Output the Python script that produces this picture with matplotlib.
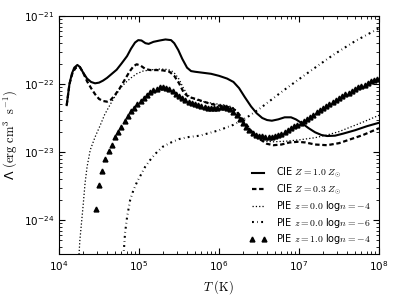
import numpy as np
import matplotlib
matplotlib.use("Agg")
import matplotlib.pyplot as plt

plt.rcParams['mathtext.fontset'] = 'cm'

# CIE, solar metallicity (log T, log Lambda)
cie1_logT = [4.096, 4.13, 4.16, 4.19, 4.229, 4.26, 4.30, 4.35, 4.40, 4.45,
             4.50, 4.55, 4.60, 4.65, 4.72, 4.78, 4.85, 4.90, 4.95, 4.99,
             5.03, 5.08, 5.12, 5.18, 5.26, 5.33, 5.40, 5.44, 5.49, 5.54,
             5.60, 5.65, 5.70, 5.80, 5.90, 6.00, 6.10, 6.18, 6.25, 6.32,
             6.40, 6.47, 6.54, 6.60, 6.66, 6.74, 6.82, 6.90, 6.96, 7.04,
             7.12, 7.20, 7.28, 7.35, 7.45, 7.55, 7.70, 7.85, 8.0]
cie1_logL = [-22.31, -22.00, -21.85, -21.76, -21.72, -21.75, -21.83, -21.92, -21.97, -21.99,
             -21.98, -21.95, -21.91, -21.86, -21.79, -21.70, -21.59, -21.48, -21.39, -21.355,
             -21.36, -21.40, -21.41, -21.38, -21.36, -21.345, -21.355, -21.40, -21.50, -21.63,
             -21.76, -21.81, -21.82, -21.835, -21.85, -21.88, -21.92, -21.97, -22.06, -22.19,
             -22.33, -22.43, -22.50, -22.53, -22.54, -22.52, -22.49, -22.49, -22.52, -22.58,
             -22.65, -22.71, -22.75, -22.765, -22.76, -22.73, -22.68, -22.62, -22.57]

# CIE, 0.3 solar
cie03_logT = [4.096, 4.13, 4.17, 4.21, 4.26, 4.30, 4.35, 4.40, 4.45, 4.50,
              4.55, 4.60, 4.65, 4.70, 4.76, 4.82, 4.88, 4.93, 4.97, 5.02,
              5.08, 5.14, 5.22, 5.30, 5.38, 5.44, 5.50, 5.56, 5.62, 5.68,
              5.76, 5.86, 5.96, 6.06, 6.16, 6.22, 6.30, 6.38, 6.45, 6.52,
              6.60, 6.68, 6.78, 6.88, 6.98, 7.08, 7.20, 7.35, 7.50, 7.65,
              7.80, 8.0]
cie03_logL = [-22.31, -22.00, -21.83, -21.76, -21.75, -21.83, -21.96, -22.06, -22.15, -22.22,
              -22.25, -22.26, -22.23, -22.16, -22.06, -21.94, -21.82, -21.74, -21.71, -21.73,
              -21.78, -21.795, -21.795, -21.80, -21.82, -21.88, -21.99, -22.13, -22.19, -22.21,
              -22.24, -22.28, -22.31, -22.33, -22.35, -22.40, -22.52, -22.66, -22.75, -22.82,
              -22.88, -22.90, -22.89, -22.86, -22.85, -22.86, -22.89, -22.90, -22.87, -22.81,
              -22.75, -22.65]

# PIE z=0, log n=-4
pie4_logT = [4.24, 4.26, 4.28, 4.30, 4.325, 4.35, 4.39, 4.45, 4.51, 4.57,
             4.64, 4.70, 4.76, 4.83, 4.90, 4.97, 5.05, 5.16, 5.26, 5.34,
             5.40, 5.45, 5.50, 5.55, 5.60, 5.66, 5.76, 5.90, 6.01, 6.12,
             6.18, 6.25, 6.32, 6.40, 6.48, 6.56, 6.68, 6.85, 7.01, 7.20,
             7.35, 7.50, 7.65, 7.80, 8.0]
pie4_logL = [-24.70, -24.30, -24.05, -23.80, -23.46, -23.22, -22.97, -22.78, -22.62, -22.45,
             -22.30, -22.18, -22.07, -21.98, -21.91, -21.85, -21.81, -21.79, -21.78, -21.785,
             -21.80, -21.85, -21.93, -22.05, -22.15, -22.21, -22.25, -22.28, -22.30, -22.32,
             -22.35, -22.45, -22.58, -22.72, -22.80, -22.84, -22.85, -22.84, -22.82, -22.79,
             -22.75, -22.70, -22.63, -22.56, -22.46]

# PIE z=0, log n=-6
pie6_logT = [4.80, 4.81, 4.825, 4.85, 4.888, 4.93, 4.975, 5.03, 5.075, 5.15,
             5.225, 5.30, 5.40, 5.50, 5.62, 5.76, 5.88, 6.0, 6.18, 6.35,
             6.5, 6.6, 6.8, 7.01, 7.2, 7.43, 7.7, 8.0]
pie6_logL = [-24.80, -24.45, -24.19, -23.96, -23.71, -23.56, -23.44, -23.32, -23.22, -23.10,
             -23.00, -22.92, -22.86, -22.81, -22.78, -22.76, -22.72, -22.68, -22.60, -22.49,
             -22.37, -22.28, -22.10, -21.92, -21.76, -21.57, -21.37, -21.18]

# PIE z=1, log n=-4 (triangles)
pie1_logT = [4.46, 4.50, 4.54, 4.58, 4.62, 4.66, 4.70, 4.74, 4.78, 4.82,
             4.86, 4.90, 4.94, 4.98, 5.02, 5.06, 5.10, 5.14, 5.18, 5.22,
             5.26, 5.30, 5.34, 5.38, 5.42, 5.46, 5.50, 5.54, 5.58, 5.62,
             5.66, 5.70, 5.74, 5.78, 5.82, 5.86, 5.90, 5.94, 5.98, 6.02,
             6.06, 6.10, 6.14, 6.18, 6.22, 6.26, 6.30, 6.34, 6.38, 6.42,
             6.46, 6.50, 6.54, 6.58, 6.62, 6.66, 6.70, 6.74, 6.78, 6.82,
             6.86, 6.90, 6.94, 6.98, 7.02, 7.06, 7.10, 7.14, 7.18, 7.22,
             7.26, 7.30, 7.34, 7.38, 7.42, 7.46, 7.50, 7.54, 7.58, 7.62,
             7.66, 7.70, 7.74, 7.78, 7.82, 7.86, 7.90, 7.94, 7.98]
pie1_logL = [-23.84, -23.49, -23.28, -23.10, -22.99, -22.90, -22.78, -22.70, -22.63, -22.55,
             -22.47, -22.40, -22.35, -22.30, -22.25, -22.20, -22.16, -22.12, -22.09, -22.07,
             -22.05, -22.05, -22.06, -22.08, -22.11, -22.14, -22.18, -22.21, -22.24, -22.26,
             -22.28, -22.29, -22.31, -22.32, -22.34, -22.35, -22.36, -22.36, -22.35, -22.34,
             -22.34, -22.35, -22.37, -22.41, -22.46, -22.52, -22.57, -22.63, -22.68, -22.72,
             -22.745, -22.76, -22.77, -22.775, -22.78, -22.78, -22.77, -22.75, -22.73, -22.70,
             -22.68, -22.65, -22.62, -22.60, -22.57, -22.54, -22.51, -22.48, -22.45, -22.41,
             -22.38, -22.35, -22.32, -22.29, -22.26, -22.23, -22.20, -22.18, -22.15, -22.13,
             -22.10, -22.08, -22.05, -22.03, -22.01, -21.98, -21.96, -21.94, -21.92]


def p10(a):
    return 10 ** np.array(a)


fig = plt.figure(figsize=(3.99, 2.99), dpi=100)
ax = fig.add_axes([0.148, 0.1505, 0.802, 0.796])

ax.plot(p10(cie1_logT), p10(cie1_logL), color='k', lw=1.5, ls='-',
        label=r'CIE $Z=1.0\ Z_{\odot}$')
ax.plot(p10(cie03_logT), p10(cie03_logL), color='k', lw=1.6, ls=(0, (2, 1.2)),
        label=r'CIE $Z=0.3\ Z_{\odot}$')
ax.plot(p10(pie4_logT), p10(pie4_logL), color='k', lw=0.9, ls=':',
        label=r'PIE $z=0.0$ log$n=-4$')
ax.plot(p10(pie6_logT), p10(pie6_logL), color='k', lw=1.5, ls=(0, (0.9, 1.6, 0.3, 1.6)),
        label=r'PIE $z=0.0$ log$n=-6$')
ax.plot(p10(pie1_logT), p10(pie1_logL), color='k', ls='none', marker='^', ms=3.5,
        label=r'PIE $z=1.0$ log$n=-4$')

ax.set_xscale('log')
ax.set_yscale('log')
ax.set_xlim(1e4, 1e8)
ax.set_ylim(10 ** -24.5, 1e-21)
ax.tick_params(which='both', direction='in', top=True, right=True, labelsize=7.5)
ax.tick_params(which='major', length=4)
ax.tick_params(which='minor', length=2)
ax.set_xlabel(r'$T\ (\mathrm{K})$', fontsize=9)
ax.set_ylabel(r'Λ $(\mathrm{erg\ cm^3\ \ s^{-1}})$', fontsize=9)
ax.yaxis.set_label_coords(-0.125, 0.5)

ax.legend(loc='lower right', frameon=False, fontsize=7, numpoints=2,
          handlelength=1.8, handletextpad=1.0, labelspacing=0.25,
          borderaxespad=0.4)

fig.savefig('out.png', dpi=100)
